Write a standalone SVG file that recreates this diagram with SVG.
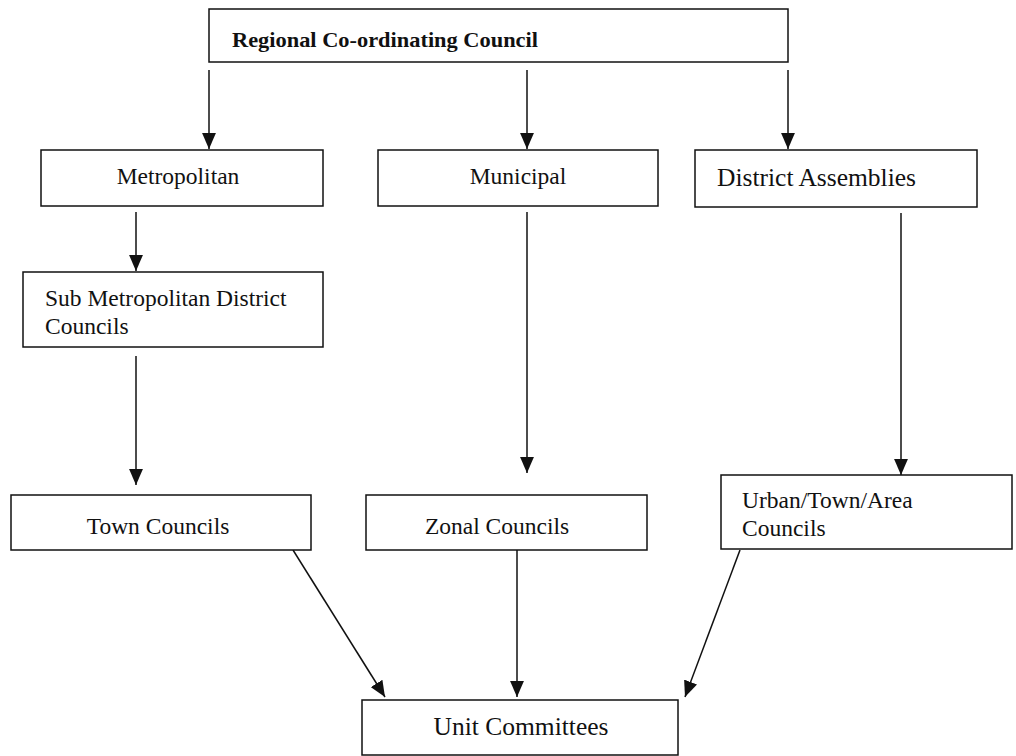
<svg xmlns="http://www.w3.org/2000/svg" width="1016" height="756" viewBox="0 0 1016 756">
<style>
.box{fill:#fff;stroke:#111;stroke-width:1.5}
.t{font-family:"Liberation Serif","Times New Roman",serif;font-size:23.5px;fill:#111}
.t2{font-family:"Liberation Serif","Times New Roman",serif;font-size:25.5px;fill:#111}
.tb{font-family:"Liberation Serif","Times New Roman",serif;font-size:21px;font-weight:bold;fill:#111}
.c{stroke:#111;stroke-width:1.5;fill:none;marker-end:url(#ah)}
</style>
<defs>
<marker id="ah" markerUnits="userSpaceOnUse" markerWidth="16" markerHeight="14" viewBox="0 0 15 13" refX="15" refY="6.5" orient="auto">
<path d="M0,0 L15,6.5 L0,13 z" fill="#111"/>
</marker>
</defs>
<rect width="1016" height="756" fill="#fff"/>
<g id="connectors">
<line class="c" x1="209" y1="70" x2="209" y2="149"/>
<line class="c" x1="527" y1="70" x2="527" y2="149"/>
<line class="c" x1="788" y1="70" x2="788" y2="149"/>
<line class="c" x1="136" y1="212" x2="136" y2="271"/>
<line class="c" x1="136" y1="356" x2="136" y2="485"/>
<line class="c" x1="527" y1="212" x2="527" y2="473"/>
<line class="c" x1="901" y1="213" x2="901" y2="475"/>
<line class="c" x1="293" y1="550" x2="385" y2="697"/>
<line class="c" x1="517" y1="550" x2="517" y2="697"/>
<line class="c" x1="740" y1="550" x2="685" y2="697"/>
</g>
<g id="regional">
<rect class="box" x="209" y="9" width="579" height="53"/>
<text class="tb" x="232" y="47" textLength="306" lengthAdjust="spacingAndGlyphs">Regional Co-ordinating Council</text>
</g>
<g id="metropolitan">
<rect class="box" x="41" y="150" width="282" height="56"/>
<text class="t" x="178" y="184" text-anchor="middle">Metropolitan</text>
</g>
<g id="municipal">
<rect class="box" x="378" y="150" width="280" height="56"/>
<text class="t" x="518" y="184" text-anchor="middle">Municipal</text>
</g>
<g id="district-assemblies">
<rect class="box" x="695" y="150" width="282" height="57"/>
<text class="t2" x="717" y="186">District Assemblies</text>
</g>
<g id="sub-metropolitan">
<rect class="box" x="23" y="272" width="300" height="75"/>
<text class="t" x="45" y="306">Sub Metropolitan District</text>
<text class="t" x="45" y="334">Councils</text>
</g>
<g id="town-councils">
<rect class="box" x="11" y="495" width="300" height="55"/>
<text class="t" x="158" y="534" text-anchor="middle">Town Councils</text>
</g>
<g id="zonal-councils">
<rect class="box" x="366" y="495" width="281" height="55"/>
<text class="t" x="497" y="534" text-anchor="middle">Zonal Councils</text>
</g>
<g id="urban-councils">
<rect class="box" x="721" y="475" width="291" height="74"/>
<text class="t" x="742" y="508">Urban/Town/Area</text>
<text class="t" x="742" y="536">Councils</text>
</g>
<g id="unit-committees">
<rect class="box" x="362" y="700" width="316" height="55"/>
<text class="t2" x="521" y="735" text-anchor="middle">Unit Committees</text>
</g>
</svg>
